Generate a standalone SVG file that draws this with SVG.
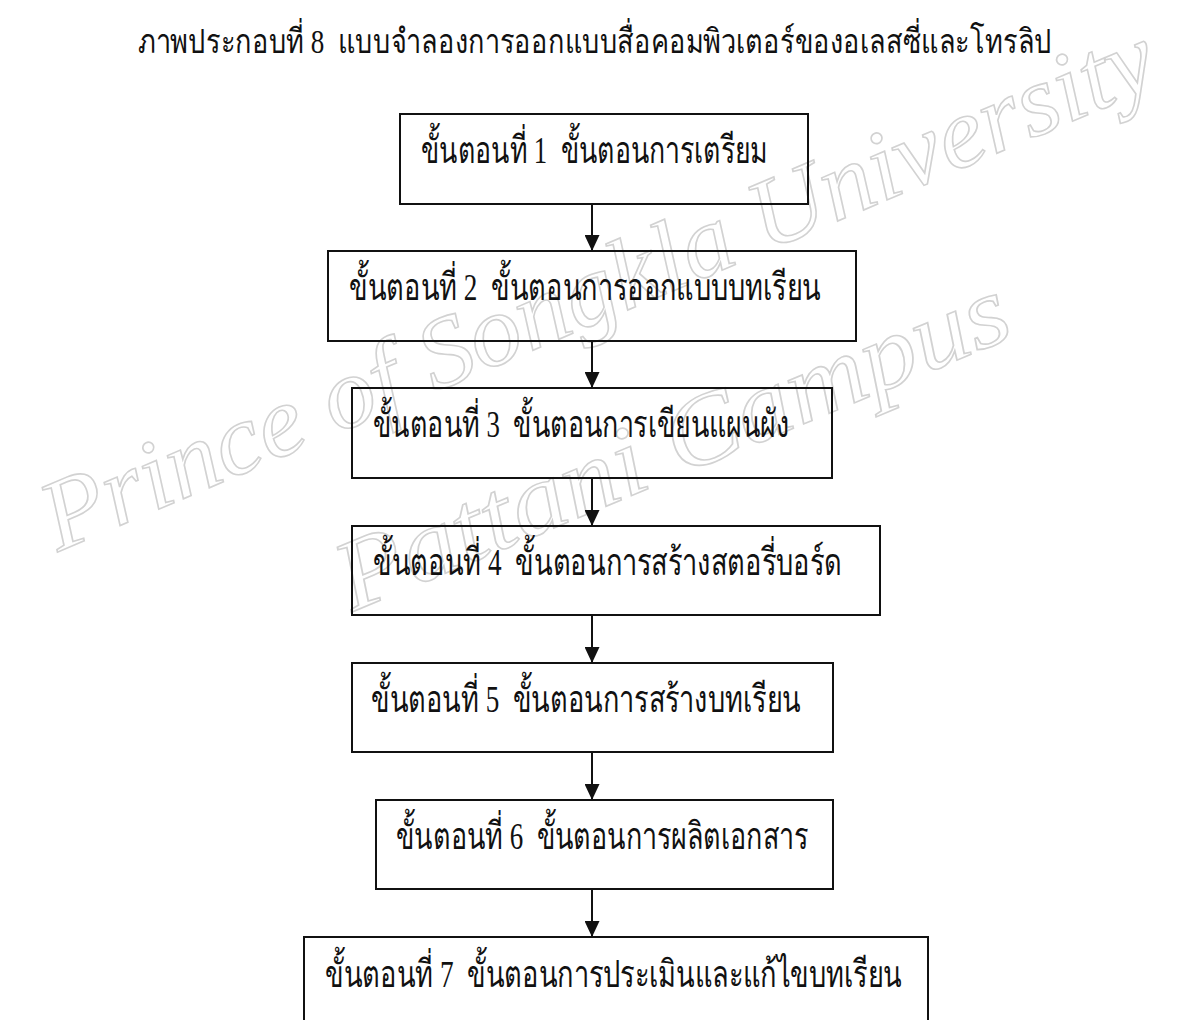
<svg xmlns="http://www.w3.org/2000/svg" width="1188" height="1020" viewBox="0 0 1188 1020">
<style>
.bg{fill:#ffffff}
.box{fill:none;stroke:#111;stroke-width:2}
.lbl{font-family:"Liberation Serif","DejaVu Serif","Noto Sans",serif;font-size:38px;fill:#111;white-space:pre}
.ttl{font-family:"Liberation Serif","DejaVu Serif","Noto Sans",serif;font-size:27.4px;fill:#111;white-space:pre}
.wm{font-family:"Liberation Serif","DejaVu Serif",serif;font-style:italic;font-size:100px;fill:none;stroke:#d2d2d2;stroke-width:1.6}
.conn{stroke:#111;stroke-width:2;fill:none}
</style>
<defs>
<marker id="arr" markerUnits="userSpaceOnUse" markerWidth="16" markerHeight="15" refX="16" refY="7.5" orient="auto">
<path d="M0,0 L16,7.5 L0,15 z" fill="#111"/>
</marker>
</defs>
<rect class="bg" x="0" y="0" width="1188" height="1020"/>
<g id="watermark">
<text class="wm" transform="translate(58,552) rotate(-23)" textLength="1200" lengthAdjust="spacingAndGlyphs">Prince of Songkla University</text>
<text class="wm" transform="translate(352,612) rotate(-22.6)" textLength="720" lengthAdjust="spacingAndGlyphs">Pattani Campus</text>
</g>
<g id="title">
<text class="ttl" transform="translate(138,53) scale(1,1.24)" x="0" y="0" textLength="914" lengthAdjust="spacingAndGlyphs">ภาพประกอบที่ 8  แบบจำลองการออกแบบสื่อคอมพิวเตอร์ของอเลสซี่และโทรลิป</text>
</g>
<g id="connectors">
<line class="conn" x1="592" y1="204" x2="592" y2="251" marker-end="url(#arr)"/>
<line class="conn" x1="592" y1="341" x2="592" y2="388" marker-end="url(#arr)"/>
<line class="conn" x1="592" y1="478" x2="592" y2="526" marker-end="url(#arr)"/>
<line class="conn" x1="592" y1="615" x2="592" y2="663" marker-end="url(#arr)"/>
<line class="conn" x1="592" y1="752" x2="592" y2="800" marker-end="url(#arr)"/>
<line class="conn" x1="592" y1="889" x2="592" y2="937" marker-end="url(#arr)"/>
</g>
<g id="step1">
<rect class="box" x="400" y="114" width="408" height="90"/>
<text class="lbl" x="421" y="163" textLength="347" lengthAdjust="spacingAndGlyphs">ขั้นตอนที่ 1  ขั้นตอนการเตรียม</text>
</g>
<g id="step2">
<rect class="box" x="328" y="251" width="528" height="90"/>
<text class="lbl" x="349" y="300" textLength="472" lengthAdjust="spacingAndGlyphs">ขั้นตอนที่ 2  ขั้นตอนการออกแบบบทเรียน</text>
</g>
<g id="step3">
<rect class="box" x="352" y="388" width="480" height="90"/>
<text class="lbl" x="373" y="437" textLength="416" lengthAdjust="spacingAndGlyphs">ขั้นตอนที่ 3  ขั้นตอนการเขียนแผนผัง</text>
</g>
<g id="step4">
<rect class="box" x="352" y="526" width="528" height="89"/>
<text class="lbl" x="373" y="575" textLength="469" lengthAdjust="spacingAndGlyphs">ขั้นตอนที่ 4  ขั้นตอนการสร้างสตอรี่บอร์ด</text>
</g>
<g id="step5">
<rect class="box" x="352" y="663" width="481" height="89"/>
<text class="lbl" x="371" y="712" textLength="430" lengthAdjust="spacingAndGlyphs">ขั้นตอนที่ 5  ขั้นตอนการสร้างบทเรียน</text>
</g>
<g id="step6">
<rect class="box" x="376" y="800" width="457" height="89"/>
<text class="lbl" x="396" y="849" textLength="412" lengthAdjust="spacingAndGlyphs">ขั้นตอนที่ 6  ขั้นตอนการผลิตเอกสาร</text>
</g>
<g id="step7">
<rect class="box" x="304" y="937" width="624" height="100"/>
<text class="lbl" x="325" y="987" textLength="577" lengthAdjust="spacingAndGlyphs">ขั้นตอนที่ 7  ขั้นตอนการประเมินและแก้ไขบทเรียน</text>
</g>
</svg>
